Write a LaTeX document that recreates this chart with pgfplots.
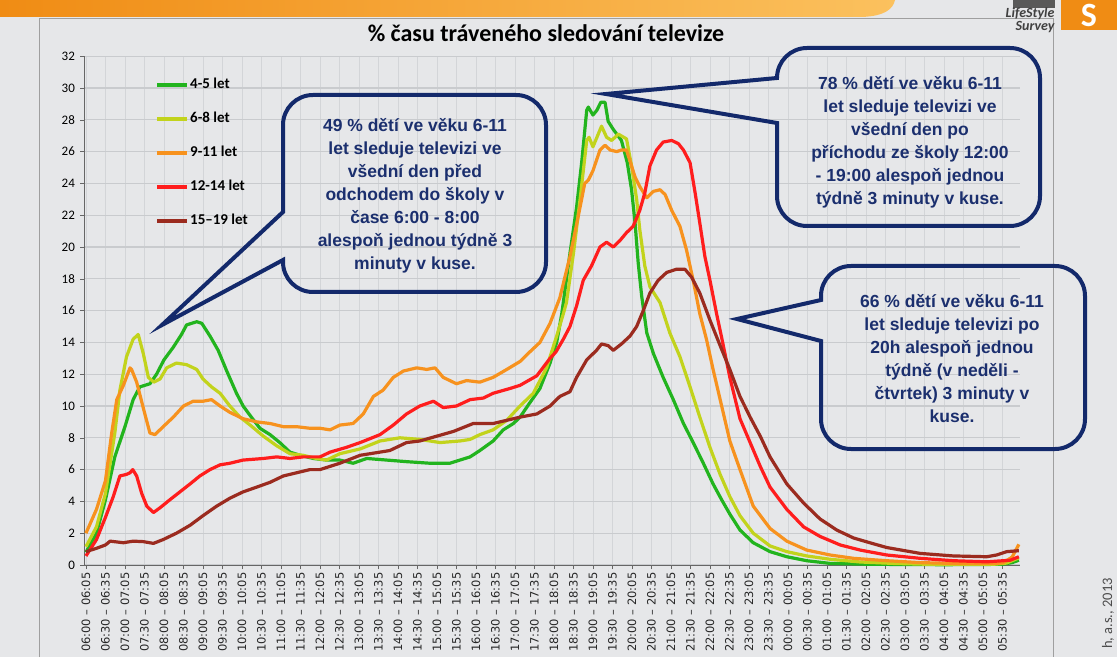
\documentclass[border=0pt]{standalone}
\usepackage{fontspec}
\setmainfont{Carlito}
\newfontfamily\dejavu{DejaVu Sans}
\newfontfamily\arialf{Liberation Sans}
\usepackage{pgfplots}
\pgfplotsset{compat=1.18}
\definecolor{bg}{HTML}{E6E7E9}
\definecolor{navy}{HTML}{13296B}
\definecolor{navytext}{HTML}{1B2F6E}
\definecolor{cG}{HTML}{22B41E}
\definecolor{cY}{HTML}{C2D31C}
\definecolor{cO}{HTML}{F7921E}
\definecolor{cR}{HTML}{FF1D1D}
\definecolor{cB}{HTML}{9B2B1F}
\definecolor{gridH}{HTML}{C9CBCE}
\definecolor{gridV}{HTML}{D3D5D8}
\definecolor{orA}{HTML}{F08C14}
\definecolor{orB}{HTML}{FBC15E}
\begin{document}
\begin{tikzpicture}[x=1pt,y=1pt]
\path[use as bounding box] (0,0) rectangle (1117,657);
\fill[bg] (0,0) rectangle (1117,657);
% banner
\shade[left color=orA, right color=orB] (0,657) -- (895,657) .. controls (893,648) and (885,641) .. (862,640) -- (0,640) -- cycle;
% frame
\draw[gray!75, line width=0.8pt] (39,0) -- (39,639) -- (1053,639) -- (1053,0);
% logo
\fill[gray!70!black] (1013,657) rectangle (1055,649);
\node[anchor=east, font=\bfseries\itshape\fontsize{14}{14}\selectfont, text=black!75] at (1058,643) {LifeStyle};
\node[anchor=east, font=\bfseries\itshape\fontsize{14}{14}\selectfont, text=black!75] at (1058,630) {Survey};
\fill[orA] (1061,657) rectangle (1117,627);
\node[white, font=\bfseries\fontsize{34}{34}\selectfont] at (1089,642) {S};
% footnote
\node[rotate=90, anchor=east, font=\fontsize{14.5}{14.5}\selectfont, text=black!70, inner sep=0pt] at (1108,79) {h, a.s., 2013};
% title
\node[font=\bfseries\fontsize{24}{24}\selectfont] at (546,624) {\% času tráveného sledování televize};
\begin{axis}[
  at={(84.4pt,92pt)}, anchor=south west,
  width=936pt, height=508.8pt, scale only axis,
  xmin=-0.04, xmax=23.96, ymin=0, ymax=32,
  axis x line*=bottom, axis y line*=left,
  axis line style={draw=gray!80!black, line width=0.7pt},
  xtick={0,0.5,...,23.5},
  xticklabels={06:00 – 06:05, 06:30 – 06:35, 07:00 – 07:05, 07:30 – 07:35, 08:00 – 08:05, 08:30 – 08:35, 09:00 – 09:05, 09:30 – 09:35, 10:00 – 10:05, 10:30 – 10:35, 11:00 – 11:05, 11:30 – 11:35, 12:00 – 12:05, 12:30 – 12:35, 13:00 – 13:05, 13:30 – 13:35, 14:00 – 14:05, 14:30 – 14:35, 15:00 – 15:05, 15:30 – 15:35, 16:00 – 16:05, 16:30 – 16:35, 17:00 – 17:05, 17:30 – 17:35, 18:00 – 18:05, 18:30 – 18:35, 19:00 – 19:05, 19:30 – 19:35, 20:00 – 20:05, 20:30 – 20:35, 21:00 – 21:05, 21:30 – 21:35, 22:00 – 22:05, 22:30 – 22:35, 23:00 – 23:05, 23:30 – 23:35, 00:00 – 00:05, 00:30 – 00:35, 01:00 – 01:05, 01:30 – 01:35, 02:00 – 02:05, 02:30 – 02:35, 03:00 – 03:05, 03:30 – 03:35, 04:00 – 04:05, 04:30 – 04:35, 05:00 – 05:05, 05:30 – 05:35},
  ytick={0,2,...,32},
  xmajorgrids, ymajorgrids,
  x grid style={gridV, line width=0.8pt},
  y grid style={gridH, line width=1.3pt},
  tick style={gray!80!black, line width=0.6pt},
  tick align=outside, major tick length=4pt,
  xticklabel style={rotate=90, anchor=east, font=\dejavu\fontsize{11.5}{11.5}\selectfont, text=black!85},
  yticklabel style={font=\fontsize{13}{13}\selectfont, xshift=-2pt},
  /pgf/number format/assume math mode=true,
  clip=false,
  every axis plot/.append style={line width=3.2pt, line join=round, mark=none},
  legend style={at={(0.0754,0.958)}, anchor=north west, draw=none, fill=none, inner sep=0pt,
     font=\bfseries\fontsize{15}{15}\selectfont, row sep=19pt,
     nodes={inner sep=1pt, text height=10pt, text depth=3pt}},
  legend cell align=left,
  legend image code/.code={\draw[#1, line width=4pt] (0pt,0pt) -- (30pt,0pt);},
]
\addplot[cG] coordinates {
(0,0.8)(0.27,2.0)(0.5,4.1)(0.74,6.8)(1.0,8.7)(1.21,10.4)(1.38,11.2)(1.64,11.4)(1.81,12.0)(2.0,12.9)(2.24,13.7)(2.45,14.5)(2.58,15.1)(2.84,15.3)(2.97,15.2)(3.18,14.4)(3.39,13.5)(3.61,12.2)(3.86,10.8)(4.03,10.0)(4.21,9.4)(4.46,8.6)(4.72,8.2)(4.97,7.7)(5.23,7.1)(5.49,6.9)(5.83,6.7)(6.17,6.6)(6.51,6.6)(6.85,6.4)(7.2,6.7)(7.71,6.6)(8.22,6.5)(8.82,6.4)(9.33,6.4)(9.59,6.6)(9.85,6.8)(10.1,7.2)(10.44,7.8)(10.7,8.5)(10.96,8.9)(11.13,9.3)(11.38,10.2)(11.64,11.1)(11.9,12.7)(12.07,14.0)(12.2,15.8)(12.41,19.6)(12.58,22.5)(12.71,25.3)(12.84,28.6)(12.88,28.8)(13.0,28.3)(13.1,28.6)(13.2,29.1)(13.31,29.1)(13.39,27.9)(13.52,27.4)(13.73,26.7)(13.88,25.3)(13.99,23.6)(14.08,21.5)(14.16,19.0)(14.25,16.9)(14.38,14.6)(14.55,13.3)(14.8,11.8)(15.06,10.4)(15.32,8.9)(15.57,7.7)(15.83,6.4)(16.08,5.1)(16.3,4.1)(16.51,3.2)(16.77,2.2)(17.11,1.4)(17.54,0.84)(17.97,0.52)(18.48,0.27)(19.08,0.1)(20,0.05)(21,0.03)(22,0.02)(23,0.03)(23.5,0.05)(23.75,0.15)(23.92,0.3)};
\addlegendentry{4-5 let}
\addplot[cY] coordinates {
(0,1.15)(0.27,2.4)(0.5,4.5)(0.74,8.3)(0.87,11.0)(1.04,13.1)(1.21,14.2)(1.34,14.5)(1.47,13.3)(1.6,11.8)(1.74,11.5)(1.9,11.7)(2.07,12.4)(2.32,12.7)(2.58,12.6)(2.84,12.3)(3.0,11.7)(3.22,11.2)(3.44,10.8)(3.69,10.0)(3.95,9.3)(4.21,8.8)(4.55,8.1)(4.89,7.5)(5.23,7.0)(5.57,6.9)(5.91,6.7)(6.17,6.6)(6.51,7.0)(7.03,7.3)(7.54,7.8)(8.05,8.0)(8.56,7.9)(9.08,7.7)(9.59,7.8)(9.85,7.9)(10.1,8.2)(10.44,8.5)(10.79,9.1)(11.13,10.0)(11.47,10.8)(11.81,12.4)(12.07,14.4)(12.24,15.8)(12.32,16.5)(12.5,19.6)(12.67,23.0)(12.84,26.7)(12.9,26.9)(13.0,26.3)(13.22,27.6)(13.35,26.9)(13.48,26.7)(13.65,27.1)(13.86,26.8)(13.99,25.1)(14.12,23.0)(14.2,21.1)(14.33,18.8)(14.46,17.5)(14.72,16.5)(14.97,14.6)(15.23,13.1)(15.49,11.2)(15.74,9.3)(16.0,7.4)(16.26,5.7)(16.51,4.3)(16.77,3.1)(17.11,2.0)(17.54,1.2)(17.97,0.84)(18.48,0.57)(19.08,0.36)(19.85,0.19)(20.7,0.1)(21.5,0.05)(22.5,0.04)(23.3,0.05)(23.6,0.12)(23.92,0.45)};
\addlegendentry{6-8 let}
\addplot[cO] coordinates {
(0,2.0)(0.27,3.5)(0.5,5.3)(0.66,8.3)(0.79,10.4)(0.96,11.3)(1.13,12.4)(1.17,12.3)(1.3,11.5)(1.51,9.5)(1.64,8.3)(1.77,8.2)(1.98,8.7)(2.24,9.3)(2.5,10.0)(2.75,10.3)(3.0,10.3)(3.22,10.4)(3.44,10.0)(3.69,9.6)(4.03,9.2)(4.38,9.0)(4.72,8.9)(5.06,8.7)(5.4,8.7)(5.74,8.6)(6.0,8.6)(6.26,8.5)(6.51,8.8)(6.85,8.9)(7.11,9.5)(7.37,10.6)(7.62,11.0)(7.88,11.8)(8.14,12.2)(8.48,12.4)(8.74,12.3)(8.95,12.4)(9.16,11.8)(9.5,11.4)(9.76,11.6)(10.1,11.5)(10.44,11.8)(10.79,12.3)(11.13,12.8)(11.38,13.4)(11.64,14.0)(11.9,15.2)(12.15,16.8)(12.41,19.4)(12.62,21.9)(12.79,24.0)(12.88,24.2)(13.0,24.8)(13.18,26.1)(13.31,26.4)(13.44,26.1)(13.61,26.0)(13.73,26.1)(13.86,26.1)(13.95,25.4)(14.08,24.4)(14.2,23.8)(14.38,23.1)(14.55,23.5)(14.72,23.6)(14.85,23.3)(15.02,22.3)(15.23,21.3)(15.4,19.8)(15.57,17.9)(15.74,15.8)(15.91,14.2)(16.08,12.3)(16.3,10.0)(16.51,7.8)(16.77,6.0)(17.11,3.7)(17.54,2.3)(17.97,1.5)(18.48,0.94)(19.08,0.63)(19.68,0.42)(20.53,0.27)(21.39,0.15)(22.24,0.1)(23.0,0.1)(23.5,0.12)(23.75,0.5)(23.92,1.3)};
\addlegendentry{9-11 let}
\addplot[cR] coordinates {
(0,0.57)(0.27,1.6)(0.5,3.0)(0.7,4.3)(0.87,5.6)(1.04,5.7)(1.13,5.8)(1.2,6.0)(1.3,5.6)(1.43,4.5)(1.56,3.7)(1.73,3.3)(1.9,3.6)(2.15,4.1)(2.41,4.6)(2.67,5.1)(2.92,5.6)(3.18,6.0)(3.44,6.3)(3.69,6.4)(4.03,6.6)(4.55,6.7)(4.89,6.8)(5.23,6.7)(5.57,6.8)(5.91,6.8)(6.0,6.8)(6.26,7.1)(6.68,7.4)(7.03,7.7)(7.54,8.2)(7.88,8.8)(8.22,9.5)(8.56,10.0)(8.91,10.3)(9.16,9.9)(9.5,10.0)(9.85,10.4)(10.19,10.5)(10.44,10.8)(10.87,11.1)(11.13,11.3)(11.56,11.9)(11.9,13.0)(12.05,13.4)(12.24,14.2)(12.41,15.0)(12.58,16.3)(12.75,17.9)(12.96,18.8)(13.18,20.0)(13.35,20.3)(13.52,20.0)(13.69,20.4)(13.86,20.9)(14.03,21.3)(14.2,22.3)(14.33,23.4)(14.46,25.1)(14.63,26.1)(14.8,26.6)(15.02,26.7)(15.19,26.5)(15.32,26.1)(15.49,25.3)(15.62,23.4)(15.74,21.5)(15.87,19.4)(16.0,17.9)(16.17,15.8)(16.3,14.3)(16.51,11.8)(16.77,9.2)(17.03,7.7)(17.29,6.2)(17.54,4.9)(17.97,3.5)(18.4,2.4)(18.82,1.8)(19.34,1.26)(19.85,0.94)(20.53,0.63)(21.39,0.42)(22.24,0.27)(23.1,0.2)(23.7,0.3)(23.92,0.52)};
\addlegendentry{12-14 let}
\addplot[cB] coordinates {
(0,0.84)(0.27,1.05)(0.5,1.26)(0.62,1.5)(0.96,1.4)(1.21,1.5)(1.47,1.47)(1.73,1.36)(1.98,1.6)(2.32,2.0)(2.67,2.5)(3.0,3.1)(3.35,3.7)(3.69,4.2)(4.03,4.6)(4.38,4.9)(4.72,5.2)(5.06,5.6)(5.4,5.8)(5.74,6.0)(6.0,6.0)(6.51,6.4)(7.03,6.9)(7.54,7.1)(7.79,7.2)(8.22,7.7)(8.56,7.8)(8.99,8.1)(9.42,8.4)(9.93,8.9)(10.44,8.9)(10.79,9.1)(11.13,9.3)(11.56,9.5)(11.9,10.0)(12.15,10.6)(12.41,10.9)(12.58,11.8)(12.84,12.9)(13.09,13.5)(13.22,13.9)(13.39,13.8)(13.52,13.5)(13.73,13.9)(13.95,14.4)(14.12,15.0)(14.29,16.0)(14.46,17.1)(14.67,17.9)(14.89,18.4)(15.14,18.6)(15.36,18.6)(15.53,18.1)(15.74,17.1)(16.0,15.4)(16.26,13.8)(16.51,12.3)(16.77,10.6)(17.03,9.3)(17.29,8.1)(17.54,6.8)(17.97,5.1)(18.4,3.9)(18.82,2.9)(19.25,2.2)(19.68,1.7)(20.1,1.4)(20.53,1.1)(21.39,0.73)(22.24,0.57)(23.1,0.52)(23.35,0.63)(23.61,0.84)(23.92,0.9)};
\addlegendentry{15–19 let}
\end{axis}
% callouts (image coordinates)
\begin{scope}[shift={(0,657)}, yscale=-1]
\draw[navy, line width=4pt, line join=miter]
  (283,260) -- (283,262) arc[start angle=180, end angle=90, radius=30] -- (516,292)
  arc[start angle=90, end angle=0, radius=30] -- (546,125)
  arc[start angle=0, end angle=-90, radius=30] -- (313,95)
  arc[start angle=-90, end angle=-180, radius=30] -- (283,212) -- (162,325) -- cycle;
\draw[navy, line width=4pt, line join=miter]
  (777,123) -- (777,196) arc[start angle=180, end angle=90, radius=30] -- (1010,226)
  arc[start angle=90, end angle=0, radius=30] -- (1040,78)
  arc[start angle=0, end angle=-90, radius=30] -- (807,48)
  arc[start angle=-90, end angle=-180, radius=30] -- (606,94) -- cycle;
\draw[navy, line width=4pt, line join=miter]
  (821,341) -- (821,419) arc[start angle=180, end angle=90, radius=30] -- (1055,449)
  arc[start angle=90, end angle=0, radius=30] -- (1085,296)
  arc[start angle=0, end angle=-90, radius=30] -- (851,266)
  arc[start angle=-90, end angle=-180, radius=30] -- (821,300) -- (737,319) -- cycle;
\node[align=center, font=\arialf\bfseries\fontsize{17.5}{23}\selectfont, text=navytext] at (415,196)
 {49 \% dětí ve věku 6-11\\let sleduje televizi ve\\všední den před\\odchodem do školy v\\čase 6:00 - 8:00\\alespoň jednou týdně 3\\minuty v kuse.};
\node[align=center, font=\arialf\bfseries\fontsize{17.5}{23}\selectfont, text=navytext] at (910,142)
 {78 \% dětí ve věku 6-11\\let sleduje televizi ve\\všední den po\\příchodu ze školy 12:00\\- 19:00 alespoň jednou\\týdně 3 minuty v kuse.};
\node[align=center, font=\arialf\bfseries\fontsize{17.5}{23}\selectfont, text=navytext] at (952,359)
 {66 \% dětí ve věku 6-11\\let sleduje televizi po\\20h alespoň jednou\\týdně (v neděli -\\čtvrtek) 3 minuty v\\kuse.};
\end{scope}
\end{tikzpicture}
\end{document}
